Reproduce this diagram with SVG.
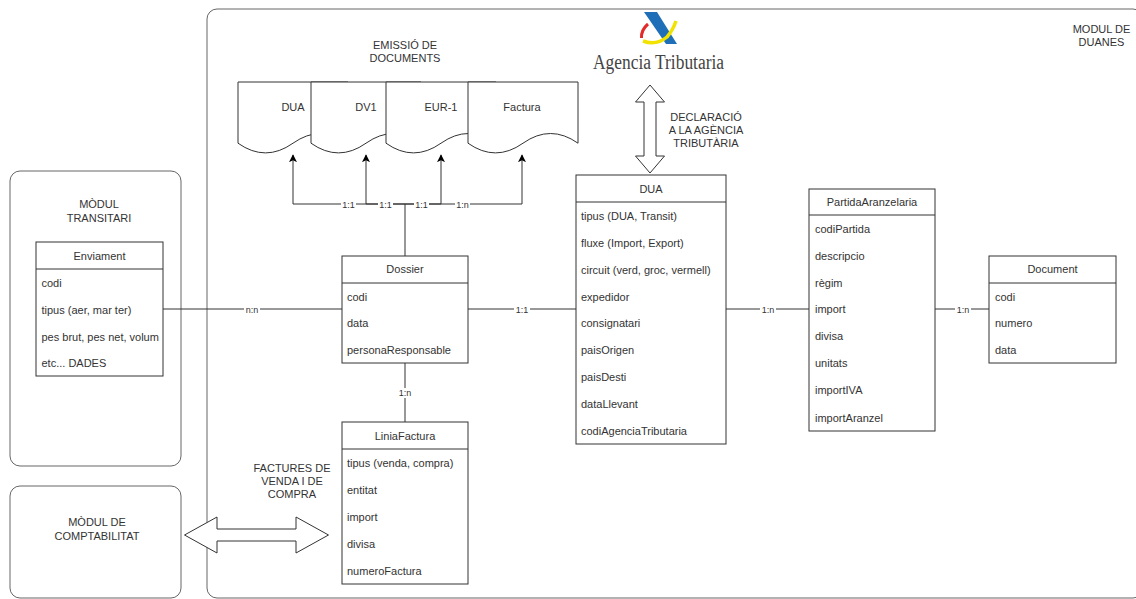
<svg xmlns="http://www.w3.org/2000/svg" width="1136" height="599" viewBox="0 0 1136 599">
<style>
text{font-family:"Liberation Sans",Arial,sans-serif;font-size:11px;fill:#333}
.c{text-anchor:middle}
.lbl{font-size:9px}
.box{fill:#fff;stroke:#333;stroke-width:1}
.mod{fill:none;stroke:#666;stroke-width:1}
.ln{fill:none;stroke:#333;stroke-width:1}
.bg{fill:#fff}
.doc{fill:#fff;stroke:#333;stroke-width:1}
.big{fill:#fff;stroke:#333;stroke-width:1}
</style>
<defs>
<marker id="arr" viewBox="0 0 10 10" refX="9" refY="5" markerWidth="8" markerHeight="8" orient="auto" markerUnits="userSpaceOnUse">
<path d="M0,0 L10,5 L0,10 L2.5,5 Z" fill="#000"/>
</marker>
<path id="docshape" d="M0,0 L110,0 L110,61.2 Q82.5,41.8 55,61.2 Q27.5,80.6 0,61.2 Z"/>
</defs>
<rect width="1136" height="599" fill="#fff"/>

<g id="modul-duanes">
<rect class="mod" x="207" y="9" width="936" height="589" rx="10"/>
<text class="c" x="1101.5" y="33">MODUL DE</text>
<text class="c" x="1101.5" y="46">DUANES</text>
</g>
<g id="modul-transitari">
<rect class="mod" x="10" y="171" width="171" height="295" rx="10"/>
<text class="c" x="99" y="208">MÒDUL</text>
<text class="c" x="99" y="222">TRANSITARI</text>
</g>
<g id="modul-comptabilitat">
<rect class="mod" x="10" y="486" width="171" height="112" rx="10"/>
<text class="c" x="97" y="526">MÒDUL DE</text>
<text class="c" x="97" y="540">COMPTABILITAT</text>
</g>

<g id="emissio-label">
<text class="c" x="405" y="49">EMISSIÓ DE</text>
<text class="c" x="405" y="62">DOCUMENTS</text>
</g>

<g id="doc-dua"><use href="#docshape" class="doc" x="238" y="82"/><text class="c" x="293" y="111">DUA</text></g>
<g id="doc-dv1"><use href="#docshape" class="doc" x="311" y="82"/><text class="c" x="366" y="111">DV1</text></g>
<g id="doc-eur1"><use href="#docshape" class="doc" x="386" y="82"/><text class="c" x="441" y="111">EUR-1</text></g>
<g id="doc-factura"><use href="#docshape" class="doc" x="468" y="82"/><text class="c" x="522" y="111">Factura</text></g>

<g id="agencia-tributaria">
<polygon points="644,12 657,12 677,44 666,44" fill="#1f6fb8"/>
<path d="M648,24 Q641,30 641.5,38" fill="none" stroke="#e32a2a" stroke-width="3"/>
<path d="M643,41 Q656,46 667,37 Q673,30 676,21" fill="none" stroke="#f2e200" stroke-width="3.5"/>
<text x="593" y="69" textLength="131" lengthAdjust="spacingAndGlyphs" style="font-family:'Liberation Serif','Times New Roman',serif;font-size:20px;fill:#444">Agencia Tributaria</text>
</g>

<g id="connectors">
<path class="ln" d="M405,256 V204"/>
<path class="ln" d="M405,204 H293 V155" marker-end="url(#arr)"/>
<path class="ln" d="M405,204 H366 V155" marker-end="url(#arr)"/>
<path class="ln" d="M405,204 H441 V155" marker-end="url(#arr)"/>
<path class="ln" d="M405,204 H522 V155" marker-end="url(#arr)"/>
<rect class="bg" x="341" y="199" width="15" height="10"/><text class="c lbl" x="348.5" y="207.5">1:1</text>
<rect class="bg" x="378" y="199" width="15" height="10"/><text class="c lbl" x="385.5" y="207.5">1:1</text>
<rect class="bg" x="414" y="199" width="15" height="10"/><text class="c lbl" x="421.5" y="207.5">1:1</text>
<rect class="bg" x="455" y="199" width="15" height="10"/><text class="c lbl" x="462.5" y="207.5">1:n</text>

<path class="ln" d="M163,309 H342"/>
<rect class="bg" x="244" y="304" width="16" height="10"/><text class="c lbl" x="252" y="312.5">n:n</text>

<path class="ln" d="M468,309 H576"/>
<rect class="bg" x="514" y="304" width="16" height="10"/><text class="c lbl" x="522" y="312.5">1:1</text>

<path class="ln" d="M726,309 H809"/>
<rect class="bg" x="760" y="304" width="16" height="10"/><text class="c lbl" x="768" y="312.5">1:n</text>

<path class="ln" d="M935,309 H989"/>
<rect class="bg" x="955" y="304" width="16" height="10"/><text class="c lbl" x="963" y="312.5">1:n</text>

<path class="ln" d="M405,363 V422"/>
<rect class="bg" x="397" y="388" width="16" height="10"/><text class="c lbl" x="405" y="396">1:n</text>

<polygon class="big" points="650,85 664.5,102 656,102 656,156 664.5,156 650,173 635.5,156 644,156 644,102 635.5,102"/>
<polygon class="big" points="184.5,535 217,517 217,529 296,529 296,517 328.5,535 296,553 296,541 217,541 217,553"/>
</g>

<g id="declaracio-label">
<text class="c" x="706" y="121">DECLARACIÓ</text>
<text class="c" x="706" y="133.5">A LA AGÈNCIA</text>
<text class="c" x="706" y="147">TRIBUTÀRIA</text>
</g>
<g id="factures-label">
<text class="c" x="292" y="471.5">FACTURES DE</text>
<text class="c" x="292" y="485">VENDA I DE</text>
<text class="c" x="292" y="498">COMPRA</text>
</g>

<g id="enviament">
<rect class="box" x="36" y="242" width="127" height="134"/>
<line class="ln" x1="36" y1="269" x2="163" y2="269"/>
<text class="c" x="99.5" y="259.5">Enviament</text>
<text x="41.5" y="287">codi</text>
<text x="41.5" y="314">tipus (aer, mar ter)</text>
<text x="41.5" y="340.5">pes brut, pes net, volum</text>
<text x="41.5" y="367">etc... DADES</text>
</g>

<g id="dossier">
<rect class="box" x="342" y="256" width="126" height="107"/>
<line class="ln" x1="342" y1="283" x2="468" y2="283"/>
<text class="c" x="405" y="273">Dossier</text>
<text x="347" y="301">codi</text>
<text x="347" y="327">data</text>
<text x="347" y="354">personaResponsable</text>
</g>

<g id="liniafactura">
<rect class="box" x="342" y="422" width="126" height="162"/>
<line class="ln" x1="342" y1="449" x2="468" y2="449"/>
<text class="c" x="405" y="440">LiniaFactura</text>
<text x="347" y="467">tipus (venda, compra)</text>
<text x="347" y="494">entitat</text>
<text x="347" y="521">import</text>
<text x="347" y="548">divisa</text>
<text x="347" y="575">numeroFactura</text>
</g>

<g id="dua">
<rect class="box" x="576" y="175" width="150" height="269"/>
<line class="ln" x1="576" y1="202" x2="726" y2="202"/>
<text class="c" x="651" y="193">DUA</text>
<text x="581" y="220">tipus (DUA, Transit)</text>
<text x="581" y="247">fluxe (Import, Export)</text>
<text x="581" y="273.5">circuit (verd, groc, vermell)</text>
<text x="581" y="300.5">expedidor</text>
<text x="581" y="327">consignatari</text>
<text x="581" y="354">paisOrigen</text>
<text x="581" y="381">paisDesti</text>
<text x="581" y="408">dataLlevant</text>
<text x="581" y="435">codiAgenciaTributaria</text>
</g>

<g id="partidaaranzelaria">
<rect class="box" x="809" y="189" width="126" height="242"/>
<line class="ln" x1="809" y1="215" x2="935" y2="215"/>
<text class="c" x="872" y="206">PartidaAranzelaria</text>
<text x="815" y="233">codiPartida</text>
<text x="815" y="260">descripcio</text>
<text x="815" y="287">règim</text>
<text x="815" y="313">import</text>
<text x="815" y="340">divisa</text>
<text x="815" y="367">unitats</text>
<text x="815" y="394">importIVA</text>
<text x="815" y="421.5">importAranzel</text>
</g>

<g id="document">
<rect class="box" x="989" y="256" width="127" height="107"/>
<line class="ln" x1="989" y1="283" x2="1116" y2="283"/>
<text class="c" x="1052.5" y="273">Document</text>
<text x="995" y="301">codi</text>
<text x="995" y="327">numero</text>
<text x="995" y="354">data</text>
</g>
</svg>
